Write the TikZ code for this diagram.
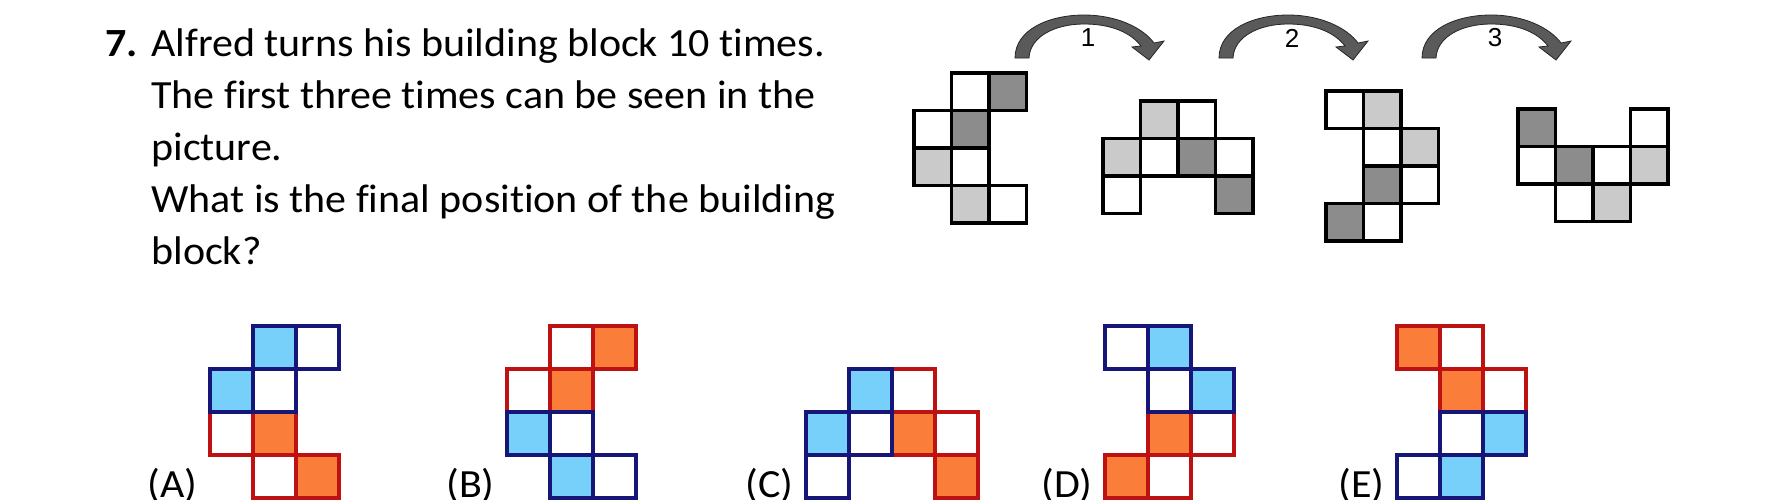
\documentclass[tikz,border=0pt]{standalone}
\usepackage{fontspec}
\setmainfont{Carlito}[Ligatures=NoCommon, FakeStretch=1.05]
\newfontfamily\numfont{Liberation Sans}
\usepackage{tikz}
\usetikzlibrary{positioning,calc}

\definecolor{lightgr}{RGB}{202,202,202}
\definecolor{darkgr}{RGB}{140,140,140}
\definecolor{arrowgr}{RGB}{90,90,90}
\definecolor{skyblue}{RGB}{118,208,250}
\definecolor{navyline}{RGB}{22,22,120}
\definecolor{orangefill}{RGB}{250,125,58}
\definecolor{redline}{RGB}{190,18,18}

% cell sizes (top row / answer row)
\def\ts{37.5}
\def\bs{43}

% curved turn arrow, tail centre at x=#1
\newcommand{\turnarrow}[2]{%
  \begin{scope}[shift={(#1,58)}]
    \draw[turn] (-7,0) .. controls (-7,-29) and (28,-43) .. (62,-43)
      .. controls (95,-43) and (121,-30) .. (132,-15) -- (142,-17) -- (127,2) -- (110,-11) -- (119,-12)
      .. controls (109,-25) and (90,-34) .. (62,-34)
      .. controls (34,-34) and (8,-22) .. (7,0) -- cycle;
    \node[turnlabel] (turn#2) at (66,-20) {#2};
  \end{scope}}

% one answer piece: origin, red cells, blue cells
\newcommand{\piece}[3]{%
  \begin{scope}[shift={#1}]
    \foreach \c/\r/\f in {#2}
      \draw[redcell, fill=\f] (\c*\bs,\r*\bs) rectangle ++(\bs,\bs);
    \foreach \c/\r/\f in {#3}
      \draw[bluecell, fill=\f] (\c*\bs,\r*\bs) rectangle ++(\bs,\bs);
  \end{scope}}

\begin{document}
\begin{tikzpicture}[x=0.5pt, y=-0.5pt,
    tcell/.style={draw=black, line width=1.9pt},
    redcell/.style={draw=redline, line width=2.1pt},
    bluecell/.style={draw=navyline, line width=2.1pt},
    turn/.style={fill=arrowgr, draw=black!85, line width=0.4pt},
    turnlabel/.style={font=\numfont\fontsize{13pt}{15pt}\selectfont, inner sep=0pt},
    question/.style={font=\fontsize{20pt}{26pt}\selectfont, align=left, inner sep=0pt},
    choice/.style={font=\fontsize{20pt}{26pt}\selectfont, inner sep=0pt, anchor=base east}]

    \useasboundingbox (0,0) rectangle (1786,499);

    % Question (base = last line)
    \node[question, anchor=base west] (qnum) at (105,56) {\textbf{7.}};
    \node[question, anchor=base west] (qtext) at (151,264) {Alfred turns his building block 10 times.\\
      The first three times can be seen in the\\
      picture.\\
      What is the final position of the building\\
      block?};

    % Turns
    \turnarrow{1022}{1}
    \turnarrow{1226}{2}
    \turnarrow{1429}{3}

    % Block positions
    \begin{scope}[shift={(914,73)}]
      \foreach \c/\r/\f in {1/0/white, 2/0/darkgr, 0/1/white, 1/1/darkgr, 0/2/lightgr, 1/2/white, 1/3/lightgr, 2/3/white}
        \draw[tcell, fill=\f] (\c*\ts,\r*\ts) rectangle ++(\ts,\ts);
    \end{scope}
    \begin{scope}[shift={(1103,101)}]
      \foreach \c/\r/\f in {1/0/lightgr, 2/0/white, 0/1/lightgr, 1/1/white, 2/1/darkgr, 3/1/white, 0/2/white, 3/2/darkgr}
        \draw[tcell, fill=\f] (\c*\ts,\r*\ts) rectangle ++(\ts,\ts);
    \end{scope}
    \begin{scope}[shift={(1326,91)}]
      \foreach \c/\r/\f in {0/0/white, 1/0/lightgr, 1/1/white, 2/1/lightgr, 1/2/darkgr, 2/2/white, 0/3/darkgr, 1/3/white}
        \draw[tcell, fill=\f] (\c*\ts,\r*\ts) rectangle ++(\ts,\ts);
    \end{scope}
    \begin{scope}[shift={(1518,109)}]
      \foreach \c/\r/\f in {0/0/darkgr, 3/0/white, 0/1/white, 1/1/darkgr, 2/1/white, 3/1/lightgr, 1/2/white, 2/2/lightgr}
        \draw[tcell, fill=\f] (\c*\ts,\r*\ts) rectangle ++(\ts,\ts);
    \end{scope}

    % Answers
    \piece{(210,326)}{0/2/white, 1/2/orangefill, 1/3/white, 2/3/orangefill}{1/0/skyblue, 2/0/white, 0/1/skyblue, 1/1/white}
    \piece{(507,326)}{1/0/white, 2/0/orangefill, 0/1/white, 1/1/orangefill}{0/2/skyblue, 1/2/white, 1/3/skyblue, 2/3/white}
    \piece{(806,369)}{2/0/white, 2/1/orangefill, 3/1/white, 3/2/orangefill}{1/0/skyblue, 0/1/skyblue, 1/1/white, 0/2/white}
    \piece{(1105,326)}{1/2/orangefill, 2/2/white, 0/3/orangefill, 1/3/white}{0/0/white, 1/0/skyblue, 1/1/white, 2/1/skyblue}
    \piece{(1397,326)}{0/0/orangefill, 1/0/white, 1/1/orangefill, 2/1/white}{1/2/white, 2/2/skyblue, 0/3/white, 1/3/skyblue}

    \node[choice] (optA) at (198,497) {(A)};
    \node[choice] (optB) at (495,497) {(B)};
    \node[choice] (optC) at (794,497) {(C)};
    \node[choice] (optD) at (1093,497) {(D)};
    \node[choice] (optE) at (1385,497) {(E)};
\end{tikzpicture}
\end{document}
